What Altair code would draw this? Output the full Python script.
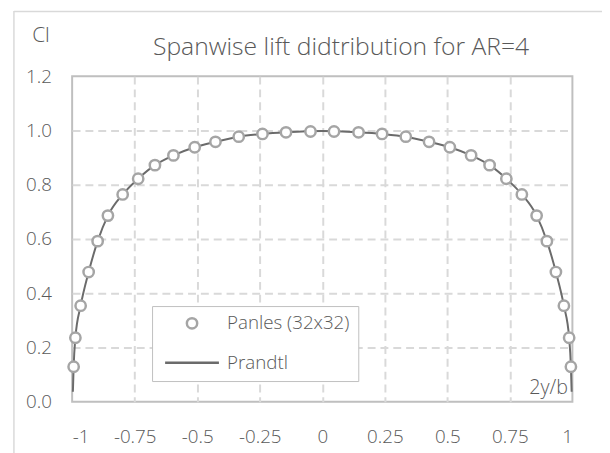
import altair as alt
import pandas as pd

# Panel method results (32x32 panels)
panel_x = [-0.994, -0.987, -0.966, -0.934, -0.898, -0.857, -0.798, -0.736,
           -0.669, -0.595, -0.510, -0.427, -0.334, -0.239, -0.145, -0.047,
           0.047, 0.145, 0.239, 0.334, 0.427, 0.510, 0.595, 0.669,
           0.736, 0.798, 0.857, 0.898, 0.934, 0.966, 0.987, 0.994]
panel_cl = [0.129, 0.236, 0.354, 0.478, 0.592, 0.686, 0.764, 0.822,
            0.872, 0.908, 0.938, 0.958, 0.977, 0.987, 0.993, 0.996,
            0.996, 0.993, 0.987, 0.977, 0.958, 0.938, 0.908, 0.872,
            0.822, 0.764, 0.686, 0.592, 0.478, 0.354, 0.236, 0.129]

# Prandtl lifting-line curve
prandtl_x = [-0.997, -0.994, -0.987, -0.966, -0.934, -0.898, -0.857, -0.798,
             -0.736, -0.669, -0.595, -0.510, -0.427, -0.334, -0.239, -0.145,
             0.0, 0.145, 0.239, 0.334, 0.427, 0.510, 0.595, 0.669,
             0.736, 0.798, 0.857, 0.898, 0.934, 0.966, 0.987, 0.994, 0.997]
prandtl_cl = [0.037, 0.129, 0.236, 0.354, 0.478, 0.592, 0.686, 0.764,
              0.822, 0.872, 0.908, 0.938, 0.958, 0.977, 0.987, 0.993,
              0.998, 0.993, 0.987, 0.977, 0.958, 0.938, 0.908, 0.872,
              0.822, 0.764, 0.686, 0.592, 0.478, 0.354, 0.236, 0.129, 0.037]

series_names = ["Panles (32x32)", "Prandtl"]
x_ticks = [-1, -0.75, -0.5, -0.25, 0, 0.25, 0.5, 0.75, 1]
y_ticks = [0.0, 0.2, 0.4, 0.6, 0.8, 1.0, 1.2]

FONT = "Open Sans"
TXT = "#595959"
GRID = "#d9d9d9"
BORDER = "#bfbfbf"
PT_COLOR = "#a5a5a5"
LINE_COLOR = "#6b6b6b"

panels = pd.DataFrame({"x": panel_x, "cl": panel_cl, "series": series_names[0]})
prandtl = pd.DataFrame({"x": prandtl_x, "cl": prandtl_cl})

x_enc = alt.X(
    "x:Q",
    scale=alt.Scale(domain=[-1, 1], nice=False, zero=False),
    axis=alt.Axis(
        values=x_ticks,
        labelExpr="datum.value < 0 ? '-' + format(-datum.value, '') : format(datum.value, '')",
        grid=True,
        gridDash=[8, 5],
        gridColor=GRID,
        gridWidth=2,
        gridOpacity={"condition": {"test": "abs(datum.value) > 0.99", "value": 0}, "value": 1},
        domain=False,
        ticks=False,
        tickSize=0,
        labelPadding=41,
        labelBaseline="alphabetic",
        labelFontSize=19,
        labelFont=FONT,
        labelFontWeight=300,
        labelColor=TXT,
        title="2y/b",
        titleX=502,
        titleY=-8,
        titleAlign="right",
        titleBaseline="alphabetic",
        titleFontSize=20,
        titleFont=FONT,
        titleFontWeight=300,
        titleColor=TXT,
    ),
)
y_enc = alt.Y(
    "cl:Q",
    scale=alt.Scale(domain=[0, 1.2], nice=False),
    axis=alt.Axis(
        values=y_ticks,
        format=".1f",
        grid=True,
        gridDash=[8, 5],
        gridColor=GRID,
        gridWidth=2,
        gridOpacity={"condition": {"test": "datum.value < 0.01 || datum.value > 1.19", "value": 0}, "value": 1},
        domain=False,
        ticks=False,
        tickSize=0,
        labelPadding=21,
        labelFontSize=19,
        labelFont=FONT,
        labelFontWeight=300,
        labelColor=TXT,
        title="Cl",
        titleAngle=0,
        titleX=-41,
        titleY=-35,
        titleAlign="left",
        titleBaseline="alphabetic",
        titleFontSize=21,
        titleFont=FONT,
        titleFontWeight=300,
        titleColor=TXT,
    ),
)

frame = alt.Chart(pd.DataFrame({"a": [0]}))
outer_left = frame.mark_rule(color=GRID, strokeWidth=1.5).encode(
    x=alt.value(-59), y=alt.value(-66), y2=alt.value(400))
outer_top = frame.mark_rule(color=GRID, strokeWidth=1.5).encode(
    x=alt.value(-59), x2=alt.value(540), y=alt.value(-65.5))

line = alt.Chart(prandtl).mark_line(
    color=LINE_COLOR, strokeWidth=2, interpolate="monotone"
).encode(x=x_enc, y=y_enc)

points = alt.Chart(panels).mark_point(
    filled=False, fill="white", fillOpacity=1, opacity=1, size=110, strokeWidth=2.5
).encode(
    x="x:Q",
    y="cl:Q",
    color=alt.Color(
        "series:N",
        scale=alt.Scale(domain=series_names, range=[PT_COLOR, LINE_COLOR]),
        legend=alt.Legend(
            orient="none",
            legendX=81,
            legendY=233,
            title=None,
            fillColor="white",
            strokeColor=BORDER,
            padding=8,
            rowPadding=20,
            symbolOffset=23,
            labelOffset=26,
            symbolSize=110,
            symbolStrokeWidth=2.5,
            labelFontSize=19,
            labelFont=FONT,
            labelFontWeight=300,
            labelColor=TXT,
        ),
    ),
    shape=alt.Shape(
        "series:N",
        scale=alt.Scale(domain=series_names, range=["circle", "M-5.2,0H5.2"]),
        legend=None,
    ),
)

chart = alt.layer(outer_left, outer_top, line, points).properties(
    width=507,
    height=330,
    title=alt.TitleParams(
        "Spanwise lift didtribution for AR=4",
        fontSize=25,
        font=FONT,
        fontWeight=300,
        color=TXT,
        anchor="middle",
        baseline="alphabetic",
        dx=19,
        dy=74,
    ),
    autosize=alt.AutoSizeParams(type="none"),
    padding={"left": 65, "top": 66, "right": 30, "bottom": 60},
).configure_view(stroke=BORDER, strokeWidth=2)

chart.save("out.html", embed_options={"renderer": "svg", "actions": False})
